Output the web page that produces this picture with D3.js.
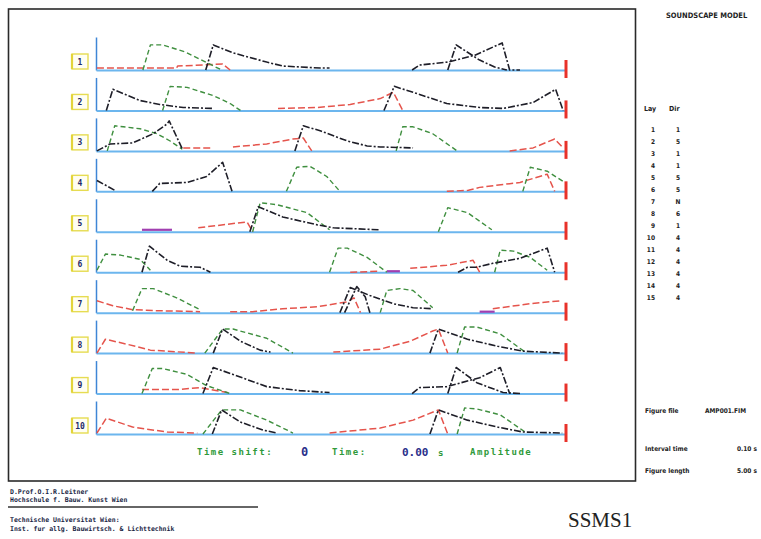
<!DOCTYPE html>
<html><head><meta charset="utf-8">
<script src="https://cdn.jsdelivr.net/npm/d3@7"></script>
<style>
html,body{margin:0;padding:0;background:#fff;}
svg{display:block;}
</style></head>
<body>
<svg id="chart" width="761" height="539"></svg>
<script>
// ---------- DATA ----------
const rowLabels = ["1","2","3","4","5","6","7","8","9","10"];
const timeDomain = [0, 5];        // seconds (figure length 5.00 s)
const ampDomain = [0, 1];

// green pulses
const direct = [
  {row:"1", pts:[[0.50,0],[0.58,0.76],[0.71,0.76],[0.95,0.55],[1.19,0.21],[1.34,0]]},
  {row:"2", pts:[[0.71,0],[0.79,0.73],[0.97,0.70],[1.25,0.45],[1.43,0.21],[1.54,0]]},
  {row:"3", pts:[[0.12,0],[0.20,0.76],[0.29,0.73],[0.47,0.67],[0.65,0.52],[0.79,0.30],[0.92,0.05]]},
  {row:"3", pts:[[3.20,0],[3.27,0.73],[3.38,0.73],[3.59,0.52],[3.85,0]]},
  {row:"4", pts:[[2.03,0],[2.14,0.73],[2.28,0.76],[2.46,0.45],[2.60,0]]},
  {row:"4", pts:[[4.55,0],[4.63,0.73],[4.81,0.61],[4.98,0.30]]},
  {row:"5", pts:[[1.67,0],[1.75,0.88],[1.93,0.82],[2.25,0.58],[2.49,0.06]]},
  {row:"5", pts:[[3.65,0],[3.75,0.73],[3.96,0.58],[4.22,0.06]]},
  {row:"6", pts:[[0.01,0.06],[0.10,0.55],[0.26,0.52],[0.47,0.39],[0.58,0.06]]},
  {row:"6", pts:[[2.49,0],[2.58,0.73],[2.68,0.73],[2.89,0.45],[3.03,0.15],[3.10,0]]},
  {row:"6", pts:[[4.25,0],[4.31,0.67],[4.45,0.64],[4.63,0.45],[4.81,0.06]]},
  {row:"7", pts:[[0.39,0.06],[0.49,0.73],[0.61,0.73],[0.86,0.45],[1.11,0.09]]},
  {row:"7", pts:[[3.03,0],[3.10,0.67],[3.24,0.73],[3.38,0.67],[3.59,0.15]]},
  {row:"8", pts:[[1.16,0],[1.35,0.73],[1.46,0.73],[1.82,0.45],[2.10,0]]},
  {row:"8", pts:[[3.85,0],[3.93,0.79],[4.06,0.79],[4.31,0.58],[4.59,0]]},
  {row:"9", pts:[[0.49,0],[0.60,0.76],[0.71,0.76],[0.97,0.58],[1.18,0.24],[1.43,0]]},
  {row:"10", pts:[[1.14,0],[1.34,0.73],[1.54,0.73],[1.82,0.42],[2.10,0.03]]},
  {row:"10", pts:[[3.85,0],[3.93,0.79],[4.06,0.76],[4.31,0.58],[4.59,0.03]]}
];

// black pulses
const reflected = [
  {row:"1", pts:[[1.17,0],[1.25,0.76],[1.46,0.52],[1.82,0.24],[1.99,0.12],[2.39,0.06],[2.49,0.06]]},
  {row:"1", pts:[[3.37,0],[3.45,0.15],[3.75,0.24],[4.04,0.45],[4.33,0.82],[4.41,0],[4.52,0]]},
  {row:"1", pts:[[3.75,0],[3.84,0.76],[4.09,0.30],[4.25,0.09],[4.38,0]]},
  {row:"2", pts:[[0.11,0],[0.18,0.64],[0.47,0.30],[0.68,0.18],[0.93,0.09],[1.25,0.06]]},
  {row:"2", pts:[[3.07,0],[3.18,0.73],[3.38,0.55],[3.74,0.21],[4.09,0.09],[4.34,0.06],[4.66,0.24],[4.90,0.64],[4.98,0]]},
  {row:"3", pts:[[0.01,0],[0.15,0.21],[0.39,0.24],[0.61,0.52],[0.76,0.82],[0.78,0.91],[0.92,0.06]]},
  {row:"3", pts:[[2.12,0],[2.21,0.76],[2.39,0.61],[2.68,0.30],[2.89,0.15],[3.03,0.12],[3.38,0.09]]},
  {row:"4", pts:[[0.01,0.33],[0.20,0.03]]},
  {row:"4", pts:[[0.60,0],[0.68,0.24],[0.97,0.27],[1.18,0.45],[1.35,0.88],[1.45,0]]},
  {row:"5", pts:[[1.64,0],[1.73,0.76],[1.99,0.45],[2.36,0.21],[2.53,0.12],[3.03,0.06]]},
  {row:"6", pts:[[0.49,0],[0.57,0.79],[0.76,0.36],[0.90,0.18],[1.11,0.15],[1.22,0]]},
  {row:"6", pts:[[3.86,0],[3.96,0.15],[4.06,0.15],[4.23,0.27],[4.52,0.42],[4.81,0.73],[4.89,0]]},
  {row:"7", pts:[[2.60,0],[2.71,0.76],[2.92,0.52],[3.17,0.27],[3.38,0.15],[3.59,0.12]]},
  {row:"7", pts:[[2.65,0],[2.78,0.79],[2.87,0.48],[2.92,0]]},
  {row:"8", pts:[[1.25,0],[1.35,0.73],[1.54,0.36],[1.75,0.09],[1.86,0.03]]},
  {row:"8", pts:[[3.56,0],[3.65,0.73],[3.96,0.42],[4.28,0.21],[4.55,0.06],[4.97,0]]},
  {row:"9", pts:[[1.14,0],[1.25,0.79],[1.46,0.58],[1.82,0.21],[2.17,0.09],[2.49,0.03]]},
  {row:"9", pts:[[3.37,0],[3.45,0.18],[3.74,0.21],[4.09,0.48],[4.31,0.79],[4.41,0]]},
  {row:"9", pts:[[3.75,0],[3.84,0.79],[4.06,0.33],[4.34,0.03],[4.52,0]]},
  {row:"10", pts:[[1.24,0],[1.34,0.73],[1.54,0.36],[1.78,0.12],[1.93,0.03]]},
  {row:"10", pts:[[3.56,0],[3.65,0.73],[3.96,0.42],[4.28,0.21],[4.55,0.06],[4.97,0.03]]}
];

// red build-up curves
const buildup = [
  {row:"1", pts:[[0.01,0.06],[0.86,0.06],[0.87,0.12],[1.35,0.18],[1.43,0]]},
  {row:"2", pts:[[1.94,0.06],[2.36,0.09],[2.71,0.18],[3.03,0.36],[3.17,0.55],[3.27,0]]},
  {row:"3", pts:[[0.93,0.09],[1.22,0.09]]},
  {row:"3", pts:[[1.46,0.12],[1.82,0.21],[2.10,0.36],[2.21,0.39],[2.30,0]]},
  {row:"3", pts:[[4.41,0],[4.66,0.09],[4.89,0.36],[4.98,0.09]]},
  {row:"4", pts:[[3.74,0],[3.97,0.03],[4.09,0.12],[4.52,0.27],[4.81,0.52],[4.89,0]]},
  {row:"5", pts:[[1.09,0.12],[1.61,0.30],[1.67,0]]},
  {row:"6", pts:[[2.71,0],[3.03,0.03]]},
  {row:"6", pts:[[3.35,0.12],[3.74,0.21],[4.02,0.36],[4.09,0]]},
  {row:"7", pts:[[0.01,0.36],[0.18,0.21],[0.39,0.09],[0.65,0.06],[1.11,0.03]]},
  {row:"7", pts:[[1.43,0.03],[1.67,0.03],[1.99,0.12],[2.36,0.18],[2.68,0.33],[2.75,0.45],[2.82,0]]},
  {row:"7", pts:[[4.23,0.12],[4.63,0.27],[4.95,0.36]]},
  {row:"8", pts:[[0.01,0],[0.10,0.42],[0.33,0.27],[0.58,0.09],[1.08,0]]},
  {row:"8", pts:[[2.53,0.03],[3.03,0.12],[3.35,0.36],[3.59,0.67],[3.65,0.73],[3.75,0]]},
  {row:"9", pts:[[0.49,0.12],[0.86,0.12],[1.11,0.18],[1.40,0.03]]},
  {row:"10", pts:[[0.01,0.03],[0.11,0.48],[0.39,0.21],[0.76,0.06],[1.08,0.03]]},
  {row:"10", pts:[[2.49,0.03],[3.03,0.18],[3.38,0.42],[3.65,0.73],[3.75,0]]}
];

// purple floor segments
const floorLevel = [
  {row:"5", pts:[[0.49,0.06],[0.81,0.06]]},
  {row:"6", pts:[[3.10,0.03],[3.24,0.03]]},
  {row:"7", pts:[[4.09,0.03],[4.25,0.03]]}
];

const tableHead = ["Lay", "Dir"];
const tableLay = ["1","2","3","4","5","6","7","8","9","10","11","12","13","14","15"];
const tableDir = ["1","5","1","1","5","5","N","6","1","4","4","4","4","4","4"];
const infoLabels = ["Figure file", "Interval time", "Figure length"];
const infoValues = ["AMP001.FIM", "0.10 s", "5.00 s"];
const footerLeft = ["D.Prof.O.I.R.Leitner", "Hochschule f. Bauw. Kunst Wien", "Technische Universitat Wien:", "Inst. fur allg. Bauwirtsch. & Lichttechnik"];

// ---------- DRAW ----------
const svg = d3.select("#chart");
const x = d3.scaleLinear().domain(timeDomain).range([96, 565]);
const rowY = d3.scalePoint().domain(rowLabels).range([70, 434]);
const amp = d3.scaleLinear().domain(ampDomain).range([0, -33]);

// frame
svg.append("rect").attr("x", 8.5).attr("y", 9).attr("width", 627).attr("height", 472)
  .attr("fill", "none").attr("stroke", "#2a2a2a").attr("stroke-width", 1.6);

const panels = svg.selectAll("g.panel").data(rowLabels).join("g")
  .attr("class", "panel")
  .attr("transform", d => `translate(0,${rowY(d)})`);

// y axis (vertical amplitude line)
panels.each(function() {
  const g = d3.select(this).append("g").attr("transform", `translate(${x(0)},0)`)
    .call(d3.axisLeft(amp).tickValues([]).tickSizeOuter(0));
  g.select(".domain").attr("stroke", "#3f86d6").attr("stroke-width", 1.5);
  const b = d3.select(this).append("g")
    .call(d3.axisBottom(x).tickValues([]).tickSizeOuter(0));
  b.select(".domain").attr("stroke", "#6cb6ee").attr("stroke-width", 2);
});

// red end marker at figure length
panels.append("line")
  .attr("x1", x(timeDomain[1]) + 1).attr("x2", x(timeDomain[1]) + 1)
  .attr("y1", -10).attr("y2", 8)
  .attr("stroke", "#e8322a").attr("stroke-width", 3);

// label boxes
panels.append("rect")
  .attr("x", 72).attr("y", -16).attr("width", 16).attr("height", 15)
  .attr("fill", "#fffef2").attr("stroke", "#e6dc52").attr("stroke-width", 1.4);
panels.append("line").attr("x1", 72).attr("x2", 72).attr("y1", -16).attr("y2", -1)
  .attr("stroke", "#e3d43a").attr("stroke-width", 2.2);
panels.append("text")
  .attr("x", 80).attr("y", -5.5).attr("text-anchor", "middle")
  .attr("font-family", "DejaVu Sans Mono, monospace").attr("font-weight", "bold")
  .attr("font-size", 8).attr("fill", "#1d2a6a")
  .text(d => d);

const line = d3.line().x(d => x(d[0])).y(d => amp(d[1]));
function drawSeries(data, color, dash, width) {
  svg.append("g").selectAll("path").data(data).join("path")
    .attr("transform", d => `translate(0,${rowY(d.row)})`)
    .attr("d", d => line(d.pts))
    .attr("fill", "none").attr("stroke", color)
    .attr("stroke-width", width).attr("stroke-dasharray", dash)
    .attr("stroke-linejoin", "round");
}
drawSeries(floorLevel, "#a13fb0", null, 2.2);
drawSeries(buildup, "#e5544c", "7,3", 1.5);
drawSeries(direct, "#3f8f3f", "5,3", 1.4);
drawSeries(reflected, "#1e1e28", "7,2,2,2", 1.6);

// bottom status line
const status = svg.append("g").attr("font-family", "DejaVu Sans Mono, monospace").attr("font-weight", "bold");
status.append("text").attr("x", 197).attr("y", 455).attr("font-size", 9).attr("letter-spacing", 1.5)
  .attr("fill", "#2f9a3a").text("Time shift:");
status.append("text").attr("x", 301).attr("y", 456).attr("font-size", 12)
  .attr("fill", "#2a2f8a").text("0");
status.append("text").attr("x", 332).attr("y", 455).attr("font-size", 9).attr("letter-spacing", 1.5)
  .attr("fill", "#2f9a3a").text("Time:");
status.append("text").attr("x", 402).attr("y", 456).attr("font-size", 11)
  .attr("fill", "#2a2f8a").text("0.00");
status.append("text").attr("x", 438).attr("y", 456).attr("font-size", 9)
  .attr("fill", "#2f9a3a").text("s");
status.append("text").attr("x", 470).attr("y", 455).attr("font-size", 9).attr("letter-spacing", 1.5)
  .attr("fill", "#2f9a3a").text("Amplitude");

// right column
const side = svg.append("g").attr("font-family", "DejaVu Sans Condensed, sans-serif").attr("fill", "#222");
side.append("text").attr("x", 666).attr("y", 18).attr("font-size", 7.5).attr("font-weight", "bold")
  .text("SOUNDSCAPE MODEL");
side.selectAll("text.head").data(tableHead).join("text").attr("class", "head")
  .attr("x", (d, i) => i === 0 ? 644 : 669).attr("y", 111).attr("font-size", 7).attr("font-weight", "bold")
  .text(d => d);
const rowStep = d3.scaleLinear().domain([0, tableLay.length - 1]).range([132, 300]);
side.selectAll("text.lay").data(tableLay).join("text").attr("class", "lay")
  .attr("x", 655).attr("y", (d, i) => rowStep(i)).attr("text-anchor", "end").attr("font-size", 6.5)
  .attr("font-weight", "bold").text(d => d);
side.selectAll("text.dir").data(tableDir).join("text").attr("class", "dir")
  .attr("x", 678).attr("y", (d, i) => rowStep(i)).attr("text-anchor", "middle").attr("font-size", 6.5)
  .attr("font-weight", "bold").text(d => d);
const infoY = [413, 451, 473];
side.selectAll("text.il").data(infoLabels).join("text").attr("class", "il")
  .attr("x", 645).attr("y", (d, i) => infoY[i]).attr("font-size", 6.5).attr("font-weight", "bold").text(d => d);
side.selectAll("text.iv").data(infoValues).join("text").attr("class", "iv")
  .attr("x", (d, i) => i === 0 ? 705 : 737).attr("y", (d, i) => infoY[i]).attr("font-size", 6.5)
  .attr("font-weight", "bold").text(d => d);

// footer
const foot = svg.append("g").attr("font-family", "DejaVu Sans Mono, monospace").attr("font-weight", "bold")
  .attr("font-size", 6.5).attr("fill", "#1a1f45");
const footY = [494, 502, 522, 531];
foot.selectAll("text").data(footerLeft).join("text")
  .attr("x", 10).attr("y", (d, i) => footY[i]).text(d => d);
svg.append("line").attr("x1", 8).attr("x2", 258).attr("y1", 507).attr("y2", 507)
  .attr("stroke", "#333").attr("stroke-width", 1.4);
svg.append("text").attr("x", 568).attr("y", 527).attr("font-family", "Liberation Serif, serif")
  .attr("font-size", 21).attr("fill", "#222").text("SSMS1");
</script>
</body></html>
